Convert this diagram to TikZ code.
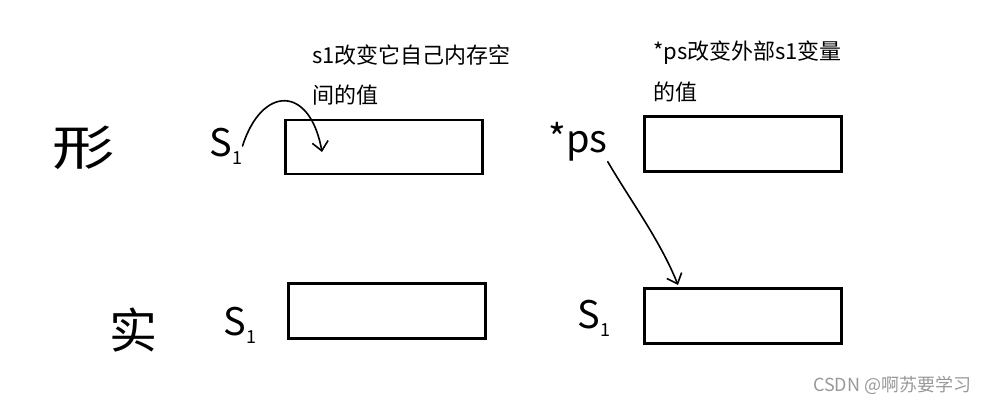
\documentclass[tikz,border=0pt]{standalone}
\usepackage{fontspec}
\setmainfont{Noto Sans CJK SC}
\usetikzlibrary{arrows.meta}
\begin{document}
\begin{tikzpicture}[x=1pt,y=-1pt,
  box/.style={draw,line width=2.6pt,minimum width=197pt,minimum height=54pt,inner sep=0pt},
  note/.style={anchor=base west,inner sep=0pt,font=\fontsize{22}{26}\selectfont},
  hand/.style={inner sep=0pt,font=\fontsize{48}{52}\selectfont},
  handsym/.style={inner sep=0pt,font=\fontsize{38}{42}\selectfont},
  stroke/.style={line width=1.6pt,line cap=round,line join=round,-{Straight Barb[length=9pt,width=16pt,line width=1.6pt]}},
  wmark/.style={anchor=base west,inner sep=0pt,text=black!40,font=\fontsize{18}{20}\selectfont}]
\useasboundingbox (0,0) rectangle (998,403);
% boxes
\node[box] (bTL) at (384,147) {};
\node[box,minimum height=55pt] (bTR) at (743,144) {};
\node[box,minimum height=55pt] (bBL) at (387,311) {};
\node[box,minimum height=55pt] (bBR) at (743,316) {};
% notes
\node[note] (n1a) at (312,64) {s1改变它自己内存空};
\node[note] (n1b) at (312,104) {间的值};
\node[note] (n2a) at (653,60) {*ps改变外部s1变量};
\node[note] (n2b) at (653,101) {的值};
% handwritten labels
\node[hand,xscale=1.3] (xing) at (84,148) {形};
\node[hand] (shi) at (133,330) {实};
\node[handsym] (s1t) at (226,146) {S\raisebox{-8pt}{\fontsize{18}{18}\selectfont 1}};
\node[handsym] (ps) at (578,142) {*ps};
\node[handsym] (s1b) at (240,325) {S\raisebox{-8pt}{\fontsize{18}{18}\selectfont 1}};
\node[handsym] (s1r) at (594,318) {S\raisebox{-8pt}{\fontsize{18}{18}\selectfont 1}};
% arrows
\coordinate (tip1) at (322,152);
\coordinate (tip2) at (678,285);
\draw[stroke] (s1t.east) .. controls (262,85) and (310,85) .. (tip1);
\draw[stroke] (ps.south east) .. controls (630,200) and (660,240) .. (tip2);
% watermark
\node[wmark] (wm) at (813,391) {CSDN @啊苏要学习};
\end{tikzpicture}
\end{document}
